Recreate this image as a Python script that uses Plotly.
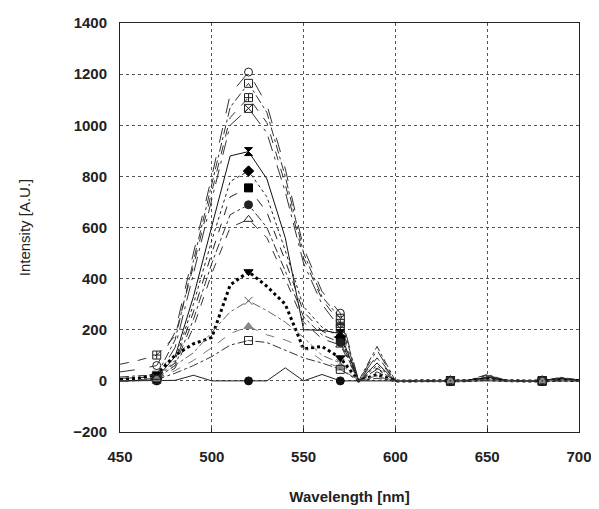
import plotly.graph_objects as go

wavelength = [450, 460, 470, 480, 490, 500, 510, 520, 530, 540, 550, 560, 570,
              580, 590, 600, 610, 620, 630, 640, 650, 660, 670, 680, 690, 700]
marker_wl = [470, 520, 570, 630, 680]

s_circle_open = [35, 45, 60, 190, 500, 800, 1120, 1208, 1080, 830, 520, 350, 265, 0, 100, 0, 0, 0, 0, 2, 20, 2, 0, 0, 12, 3]
s_square_open = [15, 20, 22, 160, 470, 770, 1070, 1164, 1050, 800, 500, 330, 245, 0, 135, 0, 0, 0, 0, 3, 25, 3, 0, 0, 14, 4]
s_square_cross = [65, 80, 101, 175, 450, 740, 1030, 1108, 1010, 770, 480, 320, 225, 0, 90, 0, 0, 0, 0, 2, 18, 2, 0, 0, 10, 3]
s_square_x = [10, 12, 15, 130, 420, 720, 1000, 1066, 970, 740, 460, 300, 205, 0, 120, 0, 0, 0, 0, 2, 22, 2, 0, 0, 12, 3]
s_hourglass = [0, 2, 12, 95, 330, 600, 880, 897, 790, 560, 200, 198, 185, 0, 70, 0, 0, 0, 0, 1, 15, 1, 0, 0, 8, 2]
s_diamond = [0, 2, 8, 80, 300, 550, 780, 821, 720, 510, 290, 210, 172, 0, 60, 0, 0, 0, 0, 1, 14, 1, 0, 0, 7, 2]
s_square = [0, 1, 15, 70, 270, 500, 720, 755, 660, 470, 270, 195, 160, 0, 50, 0, 0, 0, 0, 1, 12, 1, 0, 0, 6, 2]
s_circle_half = [0, 1, 10, 60, 240, 460, 650, 689, 600, 430, 250, 180, 150, 0, 45, 0, 0, 0, 0, 1, 10, 1, 0, 0, 5, 1]
s_triangle_open = [0, 1, 6, 50, 210, 420, 600, 632, 560, 400, 230, 165, 140, 0, 35, 0, 0, 0, 0, 1, 8, 1, 0, 0, 4, 1]
s_triangle_down = [5, 10, 25, 100, 145, 170, 375, 427, 370, 300, 125, 135, 90, 0, 25, 0, 0, 0, 0, 1, 6, 1, 0, 0, 3, 1]
s_cross = [0, 2, 12, 60, 110, 190, 270, 313, 275, 230, 170, 100, 70, 0, 20, 0, 0, 0, 0, 0, 5, 0, 0, 0, 3, 0]
s_triangle_grey = [0, 1, 8, 40, 80, 130, 185, 213, 180, 160, 130, 80, 50, 0, 15, 0, 0, 0, 0, 0, 4, 0, 0, 0, 2, 0]
s_square_dot = [0, 1, 5, 30, 60, 95, 140, 158, 150, 120, 90, 70, 45, 0, 10, 0, 0, 0, 0, 0, 3, 0, 0, 0, 2, 0]
s_circle_zero = [0, 0, 0, 2, 22, 0, 0, 0, 0, 51, 0, 25, 0, 0, 0, 0, 0, 0, 0, 0, 0, 0, 0, 0, 0, 0]

# (values, line dash, line width, line colour, marker symbol, marker colour)
series = [
    (s_circle_zero, "solid", 1, "#222", "circle", "#111"),
    (s_circle_open, "longdash", 1, "#333", "circle-open", "#222"),
    (s_square_cross, "dash", 1, "#333", "square-cross-open", "#222"),
    (s_square_x, "longdashdot", 1, "#333", "square-x-open", "#222"),
    (s_hourglass, "solid", 1, "#111", "hourglass", "#000"),
    (s_diamond, "dot", 1, "#222", "diamond", "#000"),
    (s_square, "dash", 1, "#222", "square", "#000"),
    (s_circle_half, "dashdot", 1, "#333", "circle", "#222"),
    (s_triangle_open, "dash", 1, "#333", "triangle-up-open", "#222"),
    (s_triangle_down, "dot", 3, "#000", "triangle-down", "#000"),
    (s_cross, "dashdot", 1, "#666", "x-thin-open", "#555"),
    (s_triangle_grey, "dash", 1, "#777", "triangle-up", "#888"),
    (s_square_dot, "dashdot", 1, "#333", "square-open-dot", "#222"),
    (s_square_open, "dashdot", 1, "#333", "square-open", "#222"),
]

fig = go.Figure()
for vals, dash, width, lcol, sym, mcol in series:
    fig.add_trace(go.Scatter(
        x=wavelength, y=vals, mode="lines",
        line=dict(color=lcol, width=width, dash=dash),
        showlegend=False, hoverinfo="skip"))
for vals, dash, width, lcol, sym, mcol in series:
    mx = [w for w in wavelength if w in marker_wl]
    my = [v for w, v in zip(wavelength, vals) if w in marker_wl]
    fig.add_trace(go.Scatter(
        x=mx, y=my, mode="markers",
        marker=dict(symbol=sym, size=8, color=mcol,
                    line=dict(color=mcol, width=1)),
        showlegend=False, hoverinfo="skip"))

axis_font = dict(family="Liberation Sans", size=15, color="#222", weight="bold")
fig.update_layout(
    width=591, height=501,
    margin=dict(l=112, r=20, t=6, b=75),
    paper_bgcolor="white", plot_bgcolor="white",
    xaxis=dict(
        range=[450, 700], dtick=50, tick0=450,
        showgrid=True, gridcolor="#555", griddash="dot", gridwidth=1,
        showline=True, linecolor="#222", linewidth=1, mirror=True,
        ticks="inside", ticklen=4, tickcolor="#222",
        zeroline=False, tickfont=axis_font, ticklabelstandoff=11,
        ticklabeloverflow="allow",
        title=dict(text="Wavelength [nm]", standoff=27,
                   font=dict(family="Liberation Sans", size=15, color="#222", weight="bold")),
    ),
    yaxis=dict(
        range=[-200, 1400], dtick=200, tick0=-200,
        showgrid=True, gridcolor="#555", griddash="dot", gridwidth=1,
        showline=True, linecolor="#222", linewidth=1, mirror=True,
        ticks="", zeroline=False, tickfont=axis_font, ticklabelstandoff=9,
        ticklabeloverflow="allow",
        title=dict(text="Intensity [A.U.]", standoff=38,
                   font=dict(family="Liberation Sans", size=15, color="#222")),
    ),
)

fig.write_html("out.html")
